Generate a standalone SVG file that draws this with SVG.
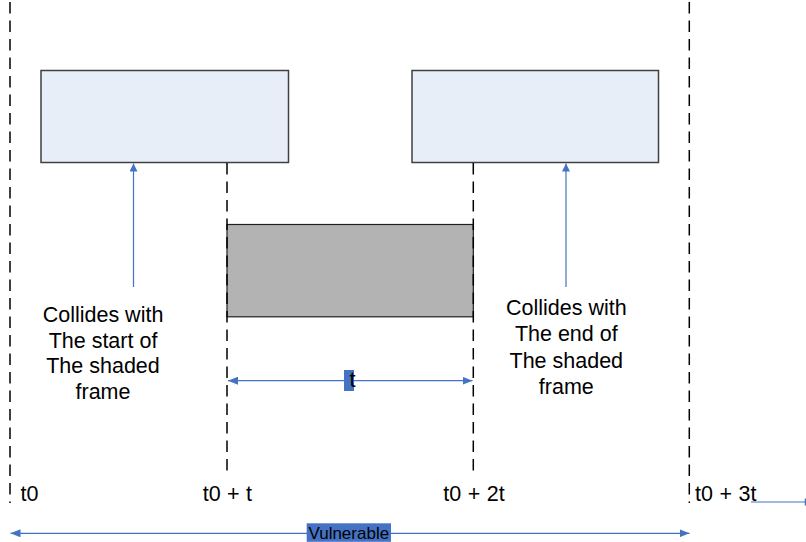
<svg xmlns="http://www.w3.org/2000/svg" width="806" height="542" viewBox="0 0 806 542">
<style>
.frame{fill:#E8EEF8;stroke:#404040;stroke-width:1.5}
.shaded{fill:#B3B3B3;stroke:#202020;stroke-width:1.2}
.dash{stroke:#000;stroke-width:1.5;stroke-dasharray:11.5 7;fill:none}
.blue{stroke:#4472C4;stroke-width:1.2;fill:none}
.lbl{font-family:"Liberation Sans",Arial,sans-serif;font-size:21.5px;word-spacing:0.5px;fill:#000}
.note{font-family:"Liberation Sans",Arial,sans-serif;font-size:21.5px;fill:#000;text-anchor:middle}
.tag{fill:#4472C4}
</style>
<defs>
<marker id="ah" viewBox="0 0 10 8" refX="10" refY="4" markerWidth="10" markerHeight="8" markerUnits="userSpaceOnUse" orient="auto-start-reverse">
<path d="M0,0 L10,4 L0,8 Z" fill="#4472C4"/>
</marker>
<marker id="ahs" viewBox="0 0 8 8" refX="8" refY="4" markerWidth="8" markerHeight="8" markerUnits="userSpaceOnUse" orient="auto">
<path d="M0,0 L8,4 L0,8 Z" fill="#4472C4"/>
</marker>
</defs>
<g id="timelines">
<line class="dash" x1="10" y1="2" x2="10" y2="503"/>
<line class="dash" x1="689.3" y1="2" x2="689.3" y2="503"/>
</g>
<g id="frame-left"><rect class="frame" x="41" y="70.5" width="247.5" height="92"/></g>
<g id="frame-right"><rect class="frame" x="412" y="70.5" width="246.5" height="92"/></g>
<g id="shaded-frame"><rect class="shaded" x="227" y="224.5" width="246.3" height="92.3"/></g>
<g id="connectors">
<line class="dash" x1="227" y1="163" x2="227" y2="472"/>
<line class="dash" x1="473.3" y1="163" x2="473.3" y2="472"/>
<line class="blue" x1="133.5" y1="287" x2="133.5" y2="163.5" marker-end="url(#ahs)"/>
<line class="blue" x1="566" y1="287" x2="566" y2="163.5" marker-end="url(#ahs)"/>
<line class="blue" x1="228" y1="380.7" x2="472.5" y2="380.7" marker-start="url(#ah)" marker-end="url(#ah)"/>
<line class="blue" x1="10.5" y1="533.3" x2="689.5" y2="533.3" marker-start="url(#ah)" marker-end="url(#ah)"/>
<line class="blue" x1="751" y1="502" x2="805" y2="502"/>
<line stroke="#4472C4" stroke-width="1.5" x1="805.5" y1="498.5" x2="805.5" y2="505.5"/>
</g>
<g id="label-t">
<rect class="tag" x="344" y="370" width="10" height="21"/>
<text class="lbl" x="349.5" y="386.5">t</text>
</g>
<g id="label-vulnerable">
<rect class="tag" x="306.7" y="523.3" width="84.3" height="18.5"/>
<text x="348.8" y="539" style="font-family:'Liberation Sans',Arial,sans-serif;font-size:17px;text-anchor:middle;fill:#000">Vulnerable</text>
</g>
<g id="time-labels">
<text class="lbl" x="20.5" y="500.5">t0</text>
<text class="lbl" x="202.7" y="500.5">t0 + t</text>
<text class="lbl" x="443.3" y="500.5">t0 + 2t</text>
<text class="lbl" x="695" y="500.5">t0 + 3t</text>
</g>
<g id="note-start">
<text class="note" x="103" y="321.7">Collides with</text>
<text class="note" x="103" y="347.5">The start of</text>
<text class="note" x="103" y="373.3">The shaded</text>
<text class="note" x="103" y="399.3">frame</text>
</g>
<g id="note-end">
<text class="note" x="566.3" y="315">Collides with</text>
<text class="note" x="566.3" y="341.3">The end of</text>
<text class="note" x="566.3" y="367.7">The shaded</text>
<text class="note" x="566.3" y="393.8">frame</text>
</g>
</svg>
